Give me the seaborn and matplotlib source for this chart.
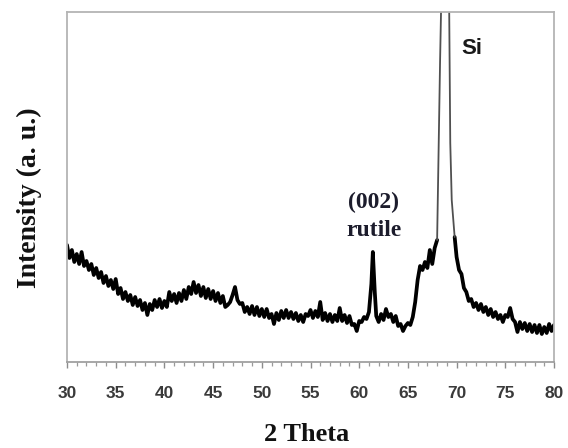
import numpy as np
import pandas as pd
import matplotlib
matplotlib.use("Agg")
import matplotlib.pyplot as plt
import seaborn as sns
from matplotlib.ticker import MultipleLocator

# ---- data (intensity in arbitrary units) ----
two_theta = [
    30.00, 30.25, 30.50, 30.75, 31.00, 31.25, 31.50, 31.75, 32.00, 32.25,
    32.50, 32.75, 33.00, 33.25, 33.50, 33.75, 34.00, 34.25, 34.50, 34.75,
    35.00, 35.25, 35.50, 35.75, 36.00, 36.25, 36.50, 36.75, 37.00, 37.25,
    37.50, 37.75, 38.00, 38.25, 38.50, 38.75, 39.00, 39.25, 39.50, 39.75,
    40.00, 40.25, 40.50, 40.75, 41.00, 41.25, 41.50, 41.75, 42.00, 42.25,
    42.50, 42.75, 43.00, 43.25, 43.50, 43.75, 44.00, 44.25, 44.50, 44.75,
    45.00, 45.25, 45.50, 45.75, 46.00, 46.25, 46.50, 46.75, 47.00, 47.25,
    47.50, 47.75, 48.00, 48.25, 48.50, 48.75, 49.00, 49.25, 49.50, 49.75,
    50.00, 50.25, 50.50, 50.75, 51.00, 51.25, 51.50, 51.75, 52.00, 52.25,
    52.50, 52.75, 53.00, 53.25, 53.50, 53.75, 54.00, 54.25, 54.50, 54.75,
    55.00, 55.25, 55.50, 55.75, 56.00, 56.25, 56.50, 56.75, 57.00, 57.25,
    57.50, 57.75, 58.00, 58.25, 58.50, 58.75, 59.00, 59.25, 59.50, 59.75,
    60.00, 60.25, 60.50, 60.75, 61.00, 61.25, 61.40, 61.60, 61.75, 62.00,
    62.25, 62.50, 62.75, 63.00, 63.25, 63.50, 63.75, 64.00, 64.25, 64.50,
    64.75, 65.00, 65.25, 65.50, 65.75, 66.00, 66.25, 66.50, 66.75, 67.00,
    67.25, 67.50, 67.75, 68.00, 68.30, 68.50, 68.90, 69.20, 69.35, 69.50,
    69.80, 70.00, 70.25, 70.50, 70.75, 71.00, 71.25, 71.50, 71.75, 72.00,
    72.25, 72.50, 72.75, 73.00, 73.25, 73.50, 73.75, 74.00, 74.25, 74.50,
    74.75, 75.00, 75.25, 75.50, 75.75, 76.00, 76.25, 76.50, 76.75, 77.00,
    77.25, 77.50, 77.75, 78.00, 78.25, 78.50, 78.75, 79.00, 79.25, 79.50,
    79.75, 80.00,
]
intensity = [
    117, 104, 112, 100, 108, 98, 110, 96, 101, 92,
    98, 87, 94, 84, 90, 79, 86, 76, 82, 73,
    83, 68, 74, 63, 70, 61, 67, 57, 65, 56,
    62, 52, 59, 47, 58, 52, 62, 55, 63, 54,
    61, 55, 70, 61, 68, 59, 69, 61, 72, 63,
    75, 68, 80, 69, 77, 66, 75, 64, 73, 63,
    71, 61, 69, 59, 66, 55, 57, 60, 67, 75,
    62, 58, 59, 50, 55, 48, 56, 47, 55, 46,
    53, 45, 53, 44, 48, 38, 49, 42, 51, 44,
    52, 44, 50, 43, 49, 41, 47, 40, 48, 46,
    52, 44, 51, 45, 60, 42, 49, 41, 48, 40,
    47, 41, 54, 41, 47, 39, 46, 37, 38, 31,
    41, 40, 45, 43, 50, 78, 110, 70, 46, 40,
    48, 42, 53, 45, 48, 40, 46, 36, 38, 31,
    36, 39, 37, 45, 60, 82, 96, 92, 100, 94,
    112, 98, 114, 122, 299, 400, 3000, 400, 219, 162,
    125, 105, 92, 88, 74, 70, 61, 63, 55, 59,
    52, 58, 50, 55, 47, 53, 45, 50, 43, 47,
    40, 47, 45, 54, 43, 40, 30, 40, 33, 39,
    31, 38, 30, 37, 29, 37, 28, 35, 29, 38,
    31, 37,
]
x_ticks = [30, 35, 40, 45, 50, 55, 60, 65, 70, 75, 80]
peak_labels = ["(002)", "rutile", "Si"]

# ---- figure ----
sns.set_theme(style="white")
plt.rcParams["font.family"] = ["Liberation Sans", "DejaVu Sans"]

fig = plt.figure(figsize=(5.68, 4.48), dpi=100)
ax = fig.add_axes([67 / 568, 1 - 362 / 448, (554 - 67) / 568, 350 / 448])

df = pd.DataFrame({"two_theta": two_theta, "intensity": intensity})
left = df[df.two_theta <= 68.0]
peak = df[(df.two_theta >= 68.0) & (df.two_theta <= 69.8)]
right = df[df.two_theta >= 69.8]

for part in (left, right):
    sns.lineplot(data=part, x="two_theta", y="intensity", color="black",
                 linewidth=2.7, ax=ax, sort=False, estimator=None)
sns.lineplot(data=peak, x="two_theta", y="intensity", color="#505050",
             linewidth=1.3, ax=ax, sort=False, estimator=None)

ax.set_xlim(30, 80)
ax.set_ylim(0, 350)
ax.set_yticks([])
ax.set_xticks(x_ticks)
ax.set_xticklabels([str(t) for t in x_ticks])
ax.xaxis.set_minor_locator(MultipleLocator(1))
ax.tick_params(axis="x", which="major", direction="out", length=4.5, width=1.0,
               color="#8c8c8c", pad=13, labelsize=12.5, labelcolor="#3a3a3a", bottom=True)
ax.tick_params(axis="x", which="minor", direction="out", length=3, width=0.9,
               color="#9a9a9a", bottom=True)
for lab in ax.get_xticklabels():
    lab.set_fontweight("bold")

for side, sp in ax.spines.items():
    sp.set_visible(True)
    sp.set_color("#b4b4b4")
    sp.set_linewidth(1.3)
ax.spines["bottom"].set_color("#a0a0a0")

serif = ["Liberation Serif", "DejaVu Serif"]
ax.set_xlabel("2 Theta", fontsize=19, fontweight="bold", family=serif, color="#111111")
ax.xaxis.set_label_coords(0.493, -0.175)
ax.set_ylabel("Intensity (a. u.)", fontsize=20, fontweight="bold", family=serif, color="#111111")
ax.yaxis.set_label_coords(-0.052, 0.469)

ax.text(61.5, 160, peak_labels[0], ha="center", va="center", fontsize=17,
        fontweight="bold", family=serif, color="#1c1c2c")
ax.text(61.5, 132, peak_labels[1], ha="center", va="center", fontsize=17,
        fontweight="bold", family=serif, color="#1c1c2c")
ax.text(71.6, 314, peak_labels[2], ha="center", va="center", fontsize=16,
        fontweight="bold", color="#1a1a1a")

fig.savefig("out.png", dpi=100)
